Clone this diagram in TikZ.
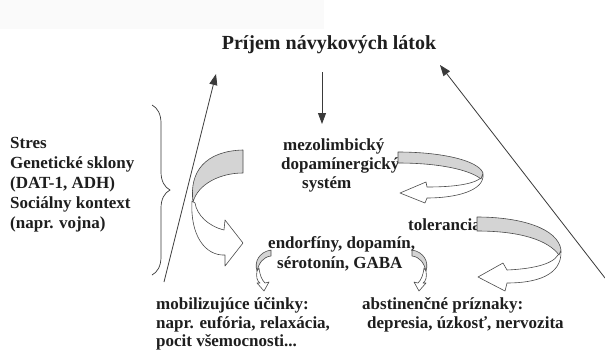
\documentclass[tikz,border=0pt]{standalone}
\usepackage{fontspec}
\setmainfont{Liberation Serif}
\usetikzlibrary{arrows.meta,decorations.pathreplacing}
\definecolor{ink}{HTML}{1E1E1E}
\definecolor{linec}{HTML}{3A3A3A}
\definecolor{band}{HTML}{D4D4D4}
\definecolor{rib}{HTML}{4A4A4A}
\begin{document}
\begin{tikzpicture}[x=1pt,y=-1pt,
  txt/.style={font=\fontsize{17}{20}\selectfont\bfseries, text=ink, inner sep=0pt, anchor=base west},
  ttl/.style={font=\fontsize{20}{24}\selectfont\bfseries, text=ink, inner sep=0pt, anchor=base},
  arr/.style={draw=linec, line width=0.8pt, -{Triangle[length=11pt,width=8pt]}},
  front/.style={fill=band, draw=rib, line width=0.6pt, line join=round},
  back/.style={fill=white, draw=rib, line width=0.6pt, line join=round},
  bracestyle/.style={draw=linec, line width=0.7pt, decorate, decoration={brace, amplitude=18pt}}]
\useasboundingbox (0,0) rectangle (605,349);
\fill[white] (0,0) rectangle (605,349);
\fill[black!2] (0,0) rectangle (324,29);

% title
\node[ttl] (title) at (329,49) {Príjem návykových látok};

% left factors
\node[txt] (s1) at (10,148) {Stres};
\node[txt] (s2) at (10,168) {Genetické sklony};
\node[txt] (s3) at (10,188) {(DAT-1, ADH)};
\node[txt] (s4) at (10,208) {Sociálny kontext};
\node[txt] (s5) at (10,228) {(napr. vojna)};
\coordinate (bt) at (152,105);
\coordinate (bb) at (152,275);
\draw[bracestyle] (bt) -- (bb);

% mesolimbic system
\node[txt] (m1) at (283,150) {mezolimbický};
\node[txt] (m2) at (281,169) {dopamínergický};
\node[txt] (m3) at (302,188) {systém};

\node[txt] (tol) at (408,230) {tolerancia};

\node[txt] (e1) at (268,248) {endorfíny, dopamín,};
\node[txt] (e2) at (277,268) {sérotonín, GABA};

\node[txt] (b1) at (156,309) {mobilizujúce účinky:};
\node[txt] (b2) at (156,328) {napr. eufória, relaxácia,};
\node[txt] (b3) at (156,346) {pocit všemocnosti...};

\node[txt] (a1) at (362,309) {abstinenčné príznaky:};
\node[txt] (a2) at (367,328) {depresia, úzkosť, nervozita};

% big left ribbon arrow
\draw[back] (192,201) .. controls (190,235) and (205,256) .. (225,255) -- (225,266) -- (243,243) -- (225,220) -- (224,230) .. controls (208,226) and (197,215) .. (195,203) -- cycle;
\draw[front] (243,150) -- (243,173) .. controls (220,173) and (198,184) .. (193,202) .. controls (189,172) and (205,151) .. (243,150) -- cycle;

% ribbon near mesolimbic system
\draw[back] (483,174) .. controls (485,191) and (455,198) .. (427,198) -- (425,203) -- (400,193) -- (426,182) -- (427,187) .. controls (450,187) and (472,185) .. (481,178) -- cycle;
\draw[front] (398,152) .. controls (440,152) and (478,160) .. (483,173) -- (481,179) .. controls (470,170) and (440,163) .. (398,163) -- cycle;

% ribbon near tolerancia
\draw[back] (561,251) .. controls (562,276) and (535,283) .. (507,283) -- (505,291) -- (478,277) -- (503,263) -- (507,270) .. controls (530,269) and (552,265) .. (558,255) -- cycle;
\draw[front] (477,217) .. controls (520,217) and (558,228) .. (561,250) -- (559,255) .. controls (548,240) and (520,231) .. (477,231) -- cycle;

% small ribbons
\draw[back] (257,271) .. controls (256,277) and (257,281) .. (260,283) -- (257,283) -- (264,291) -- (269,282) -- (265,283) .. controls (262,280) and (260,276) .. (259,268) -- cycle;
\draw[front] (271,250) -- (271,256) .. controls (263,257) and (259,263) .. (257,271) .. controls (254,262) and (259,252) .. (271,250) -- cycle;
\begin{scope}[xshift=683pt, xscale=-1]
\draw[back] (257,271) .. controls (256,277) and (257,281) .. (260,283) -- (257,283) -- (264,291) -- (269,282) -- (265,283) .. controls (262,280) and (260,276) .. (259,268) -- cycle;
\draw[front] (271,250) -- (271,256) .. controls (263,257) and (259,263) .. (257,271) .. controls (254,262) and (259,252) .. (271,250) -- cycle;
\end{scope}

% straight arrows
\coordinate (d0) at (322,72);
\coordinate (d1) at (322,124);
\draw[arr] (d0) -- (d1);
\coordinate (l0) at (164,282);
\coordinate (l1) at (216,74);
\draw[arr] (l0) -- (l1);
\coordinate (r0) at (605,278);
\coordinate (r1) at (440,65);
\draw[arr] (r0) -- (r1);
\end{tikzpicture}
\end{document}
